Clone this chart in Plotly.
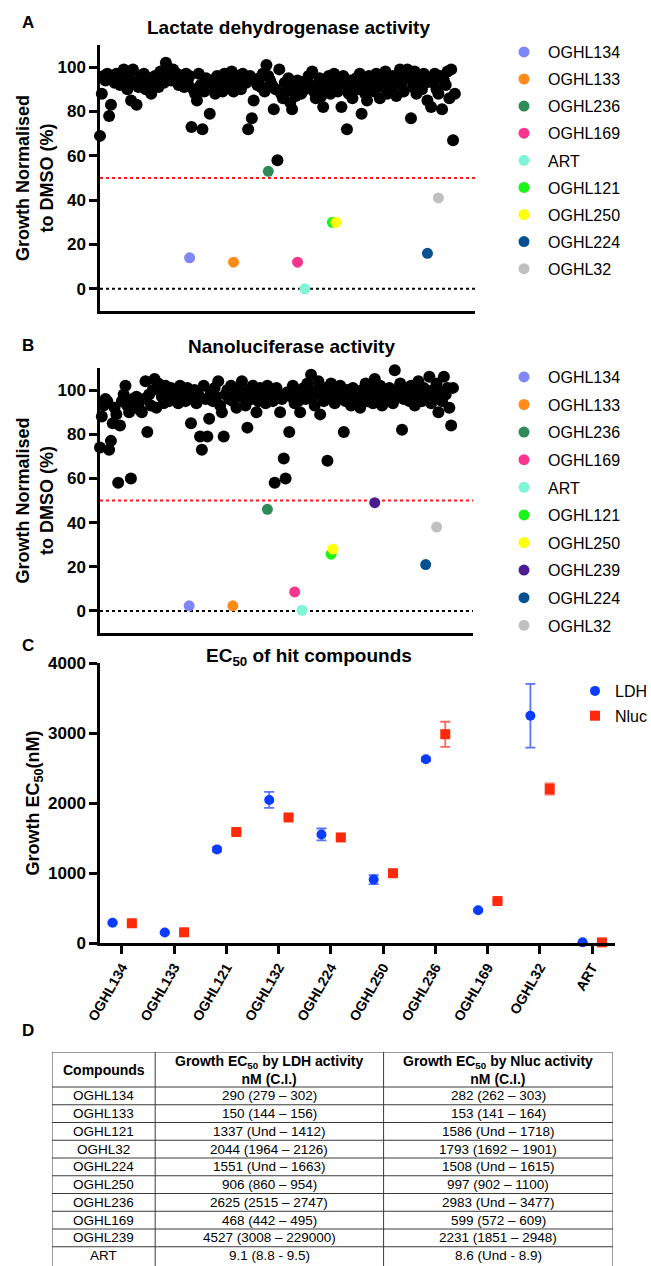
import plotly.graph_objects as go

W, H = 651, 1266
FONT = "Liberation Sans, Arial, sans-serif"

# ---------------- Panel A: LDH screen ----------------
ldh_screen = [
    69, 88, 96, 94, 97, 78, 83, 95, 93, 97,
    94, 92, 96, 99, 93, 90, 95, 85, 99, 93,
    83, 91, 96, 94, 97, 90, 93, 95, 88, 92,
    96, 94, 91, 98, 95, 93, 102, 100, 97, 94,
    99, 95, 97, 92, 96, 94, 91, 97, 93, 96,
    73, 90, 88, 85, 97, 92, 72, 89, 95, 91,
    79, 94, 92, 88, 96, 90, 93, 89, 97, 92,
    95, 91, 98, 89, 94, 96, 92, 90, 97, 95,
    93, 72, 96, 77, 85, 94, 92, 95, 91, 97,
    89, 101, 96, 94, 92, 81, 90, 58, 99, 88,
    86, 93, 89, 95, 84, 81, 91, 87, 94, 90,
    88, 93, 90, 94, 96, 92, 98, 89, 86, 91,
    95, 87, 82, 93, 90, 96, 88, 92, 97, 94,
    89, 93, 82, 96, 91, 72, 88, 94, 86, 92,
    95, 90, 97, 79, 93, 88, 85, 96, 91, 94,
    89, 97, 93, 86, 95, 91, 98, 88, 94, 90,
    96, 92, 87, 94, 99, 93, 89, 97, 99, 95,
    77, 91, 98, 88, 94, 96, 90, 97, 93, 85,
    95, 82, 93, 97, 90, 88, 96, 81, 94, 92,
    98, 86, 99, 67, 88,
]
ldh_hit_names = ["OGHL134", "OGHL133", "OGHL236", "OGHL169", "ART",
                 "OGHL121", "OGHL250", "OGHL224", "OGHL32"]
ldh_hit_idx = [49, 73, 92, 108, 112, 127, 129, 179, 185]
ldh_hit_vals = [14, 12, 53, 12, 0, 30, 30, 16, 41]

# ---------------- Panel B: Nluc screen ----------------
nluc_screen = [
    74, 88, 93, 96, 95, 73, 77, 85, 92, 89,
    58, 84, 95, 98, 102, 93, 90, 60, 96, 92,
    97, 94, 91, 90, 96, 104, 81, 98, 93, 100,
    105, 92, 103, 101, 97, 94, 102, 99, 95, 101,
    98, 96, 100, 94, 102, 97, 99, 95, 101, 98,
    85, 96, 100, 94, 98, 79, 73, 102, 96, 79,
    87, 99, 95, 101, 97, 104, 93, 90, 79, 98,
    100, 96, 102, 95, 99, 92, 101, 97, 104, 98,
    93, 83, 100, 96, 102, 98, 90, 95, 101, 97,
    99, 94, 102, 97, 100, 95, 58, 101, 98, 90,
    96, 69, 60, 99, 81, 97, 102, 94, 100, 95,
    90, 98, 101, 96, 103, 99, 107, 97, 93, 100,
    104, 89, 98, 95, 101, 68, 97, 103, 99, 94,
    100, 96, 102, 98, 81, 95, 100, 97, 93, 101,
    96, 99, 94, 92, 100, 97, 103, 95, 98, 101,
    94, 105, 99, 96, 102, 93, 100, 97, 95, 101,
    98, 94, 109, 100, 97, 103, 82, 96, 101, 99,
    95, 102, 98, 93, 100, 104, 97, 95, 101, 99,
    96, 106, 94, 100, 97, 103, 90, 99, 95, 106,
    98, 101, 92, 84, 101,
]
nluc_hit_names = ["OGHL134", "OGHL133", "OGHL236", "OGHL169", "ART",
                  "OGHL121", "OGHL250", "OGHL239", "OGHL224", "OGHL32"]
nluc_hit_idx = [49, 73, 92, 107, 111, 127, 128, 151, 179, 185]
nluc_hit_vals = [2.3, 2.3, 46, 8.6, 0.3, 25.7, 28, 49, 21, 38]

hit_colors = {
    "OGHL134": "#7f86f7", "OGHL133": "#ff8c1a", "OGHL236": "#2e8b57",
    "OGHL169": "#f7358f", "ART": "#7ff5d6", "OGHL121": "#19f519",
    "OGHL250": "#ffff0a", "OGHL239": "#4b1d91", "OGHL224": "#05508f",
    "OGHL32": "#c0c0c0",
}

# ---------------- Panel C: EC50 ----------------
ec50_compounds = ["OGHL134", "OGHL133", "OGHL121", "OGHL132", "OGHL224",
                  "OGHL250", "OGHL236", "OGHL169", "OGHL32", "ART"]
ec50_ldh = [290, 150, 1337, 2044, 1551, 906, 2625, 468, 3247, 9.1]
ec50_ldh_err_hi = [12, 8, 30, 115, 85, 65, 25, 20, 455, 0.4]
ec50_ldh_err_lo = [12, 8, 30, 115, 85, 65, 25, 20, 455, 0.3]
ec50_nluc = [282, 153, 1586, 1793, 1508, 997, 2983, 599, 2200, 8.6]
ec50_nluc_err_hi = [12, 10, 20, 20, 20, 20, 178, 15, 80, 0.3]
ec50_nluc_err_lo = [12, 10, 20, 20, 20, 20, 180, 15, 80, 0.3]

# ---------------- Panel D: table ----------------
table_header = ["<b>Compounds</b>",
                "<b>Growth EC<sub>50</sub> by LDH activity<br>nM (C.I.)</b>",
                "<b>Growth EC<sub>50</sub> by Nluc activity<br>nM (C.I.)</b>"]
table_compounds = ["OGHL134", "OGHL133", "OGHL121", "OGHL32", "OGHL224",
                   "OGHL250", "OGHL236", "OGHL169", "OGHL239", "ART"]
table_ldh = ["290 (279 – 302)", "150 (144 – 156)", "1337 (Und – 1412)",
             "2044 (1964 – 2126)", "1551 (Und – 1663)", "906 (860 – 954)",
             "2625 (2515 – 2747)", "468 (442 – 495)", "4527 (3008 – 229000)",
             "9.1 (8.8 - 9.5)"]
table_nluc = ["282 (262 – 303)", "153 (141 – 164)", "1586 (Und – 1718)",
              "1793 (1692 – 1901)", "1508 (Und – 1615)", "997 (902 – 1100)",
              "2983 (Und – 3477)", "599 (572 – 609)", "2231 (1851 – 2948)",
              "8.6 (Und - 8.9)"]
table_col_widths = [103, 228, 229]
table_header_height = 35
table_row_height = 17.75


def px(p):
    return p / W


def py(p):
    return 1 - p / H


fig = go.Figure()

# Panel A
fig.add_trace(go.Scatter(
    x=list(range(len(ldh_screen))), y=ldh_screen, mode="markers",
    marker=dict(color="black", size=12), showlegend=False,
    xaxis="x", yaxis="y", cliponaxis=False))
for n, i, v in zip(ldh_hit_names, ldh_hit_idx, ldh_hit_vals):
    fig.add_trace(go.Scatter(
        x=[i], y=[v], mode="markers", name=n, legendgroup="a" + n,
        marker=dict(color=hit_colors[n], size=11),
        xaxis="x", yaxis="y", legend="legend", cliponaxis=False))

# Panel B
fig.add_trace(go.Scatter(
    x=list(range(len(nluc_screen))), y=nluc_screen, mode="markers",
    marker=dict(color="black", size=12), showlegend=False,
    xaxis="x2", yaxis="y2", cliponaxis=False))
for n, i, v in zip(nluc_hit_names, nluc_hit_idx, nluc_hit_vals):
    fig.add_trace(go.Scatter(
        x=[i], y=[v], mode="markers", name=n, legendgroup="b" + n,
        marker=dict(color=hit_colors[n], size=11),
        xaxis="x2", yaxis="y2", legend="legend2", cliponaxis=False))

# Panel C
nc = len(ec50_compounds)
fig.add_trace(go.Scatter(
    x=[i - 0.18 for i in range(nc)], y=ec50_ldh, mode="markers", name="LDH",
    legendgroup="cldh",
    marker=dict(color="#0a3cff", size=10, symbol="circle"),
    error_y=dict(type="data", array=ec50_ldh_err_hi, arrayminus=ec50_ldh_err_lo,
                 color="#5a74ff", thickness=1.8, width=5),
    xaxis="x3", yaxis="y3", legend="legend3", cliponaxis=False))
fig.add_trace(go.Scatter(
    x=[i + 0.19 for i in range(nc)], y=ec50_nluc, mode="markers", name="Nluc",
    legendgroup="cnluc",
    marker=dict(color="#ff2a0a", size=10, symbol="square"),
    error_y=dict(type="data", array=ec50_nluc_err_hi, arrayminus=ec50_nluc_err_lo,
                 color="#ff6a5a", thickness=1.8, width=5),
    xaxis="x3", yaxis="y3", legend="legend3", cliponaxis=False))

# ---------------- Panel D table drawn on its own hidden axes ----------------
col_edges = [0]
for w in table_col_widths:
    col_edges.append(col_edges[-1] + w)
n_rows = len(table_compounds)
row_edges = [0, table_header_height]
for _ in range(n_rows):
    row_edges.append(row_edges[-1] + table_row_height)
table_total_w = col_edges[-1]
table_view_h = 214  # visible height of the table area

shapes = []
annotations = []
tline = dict(color="#3a3a3a", width=1)
for i, ye in enumerate(row_edges[:-1]):
    shapes.append(dict(type="line", xref="x4", yref="y4", x0=0,
                       x1=table_total_w, y0=ye, y1=ye, line=tline))
for xe in col_edges:
    shapes.append(dict(type="line", xref="x4", yref="y4", x0=xe, x1=xe,
                       y0=0, y1=table_view_h, line=tline))

columns = [table_compounds, table_ldh, table_nluc]
for c, head in enumerate(table_header):
    xc = (col_edges[c] + col_edges[c + 1]) / 2
    annotations.append(dict(
        text=head, x=xc, y=(row_edges[0] + row_edges[1]) / 2,
        xref="x4", yref="y4", showarrow=False, align="center",
        xanchor="center", yanchor="middle",
        font=dict(family=FONT, size=14, color="black")))
    for r, val in enumerate(columns[c]):
        annotations.append(dict(
            text=val, x=xc, y=(row_edges[r + 1] + row_edges[r + 2]) / 2,
            xref="x4", yref="y4", showarrow=False, align="center",
            xanchor="center", yanchor="middle",
            font=dict(family=FONT, size=13.5, color="black")))

tickfont = dict(family=FONT, size=17, color="black", weight="bold")
titlefont = dict(family=FONT, size=18, color="black", weight="bold")
axis_common = dict(showline=True, linewidth=2.5, linecolor="black",
                   showgrid=False, zeroline=False, automargin=False)
xscreen = dict(range=[0, 205], showticklabels=False, ticks="", **axis_common)
yscreen = dict(range=[-10, 110], tickvals=[0, 20, 40, 60, 80, 100],
               ticks="outside", ticklen=8, tickwidth=2.5, tickcolor="black",
               tickfont=tickfont,
               title=dict(text="Growth Normalised<br>to DMSO (%)",
                          font=titlefont, standoff=0),
               **axis_common)

for ax, yax in (("x", "y"), ("x2", "y2")):
    shapes.append(dict(type="line", xref=ax + " domain", yref=yax,
                       x0=0, x1=1, y0=50, y1=50, layer="below",
                       line=dict(color="#ff1a1a", width=2, dash="dot")))
    shapes.append(dict(type="line", xref=ax + " domain", yref=yax,
                       x0=0, x1=1, y0=0, y1=0, layer="below",
                       line=dict(color="black", width=2, dash="dot")))


def note(text, x, y, size=18, xanchor="center"):
    annotations.append(dict(text=text, x=px(x), y=py(y), xref="paper",
                            yref="paper", showarrow=False, xanchor=xanchor,
                            yanchor="middle",
                            font=dict(family=FONT, size=size, color="black",
                                      weight="bold")))


note("A", 20, 22, 17, "left")
note("B", 20, 345, 17, "left")
note("C", 20, 645, 17, "left")
note("D", 20, 1030, 17, "left")
note("Lactate dehydrogenase activity", 288, 27, 19)
note("Nanoluciferase activity", 291, 347, 19)
note("EC<sub>50</sub> of hit compounds", 309, 657, 19)

legend_common = dict(bgcolor="rgba(0,0,0,0)", xanchor="left", yanchor="top",
                     traceorder="grouped", itemsizing="trace",
                     font=dict(family=FONT, size=16, color="black"))

fig.update_layout(
    width=W, height=H,
    margin=dict(l=0, r=0, t=0, b=0, autoexpand=False),
    paper_bgcolor="white", plot_bgcolor="white",
    font=dict(family=FONT, color="black"),
    xaxis=dict(domain=[px(100), px(475)], anchor="y", **xscreen),
    yaxis=dict(domain=[py(311), py(45)], anchor="x", **yscreen),
    xaxis2=dict(domain=[px(100), px(473)], anchor="y2", **xscreen),
    yaxis2=dict(domain=[py(633), py(368)], anchor="x2", **yscreen),
    xaxis3=dict(domain=[px(100), px(615)], anchor="y3", range=[-0.42, 9.44],
                tickvals=list(range(nc)), ticktext=ec50_compounds,
                tickangle=-60, ticks="outside", ticklen=8, tickwidth=2.5,
                tickcolor="black",
                tickfont=dict(family=FONT, size=14, color="black", weight="bold"),
                **axis_common),
    yaxis3=dict(domain=[py(943), py(663)], anchor="x3", range=[0, 4000],
                tickvals=[0, 1000, 2000, 3000, 4000], ticks="outside",
                ticklen=8, tickwidth=2.5, tickcolor="black", tickfont=tickfont,
                title=dict(text="Growth EC<sub>50</sub>(nM)", font=titlefont,
                           standoff=4),
                **axis_common),
    xaxis4=dict(domain=[px(52), px(613)], anchor="y4",
                range=[0, table_total_w], visible=False, fixedrange=True),
    yaxis4=dict(domain=[0, py(1052)], anchor="x4",
                range=[table_view_h, 0], visible=False, fixedrange=True),
    legend=dict(x=px(500), y=py(35), tracegroupgap=3.3, itemwidth=38,
                **legend_common),
    legend2=dict(x=px(500), y=py(360), tracegroupgap=3.8, itemwidth=38,
                 **legend_common),
    legend3=dict(x=px(575), y=py(674), tracegroupgap=1, itemwidth=30,
                 **legend_common),
    shapes=shapes, annotations=annotations,
)

fig.write_html(
    "out.html",
    config={"displayModeBar": False},
    post_script="document.body.style.margin='0';"
                "document.body.style.overflow='hidden';",
)
